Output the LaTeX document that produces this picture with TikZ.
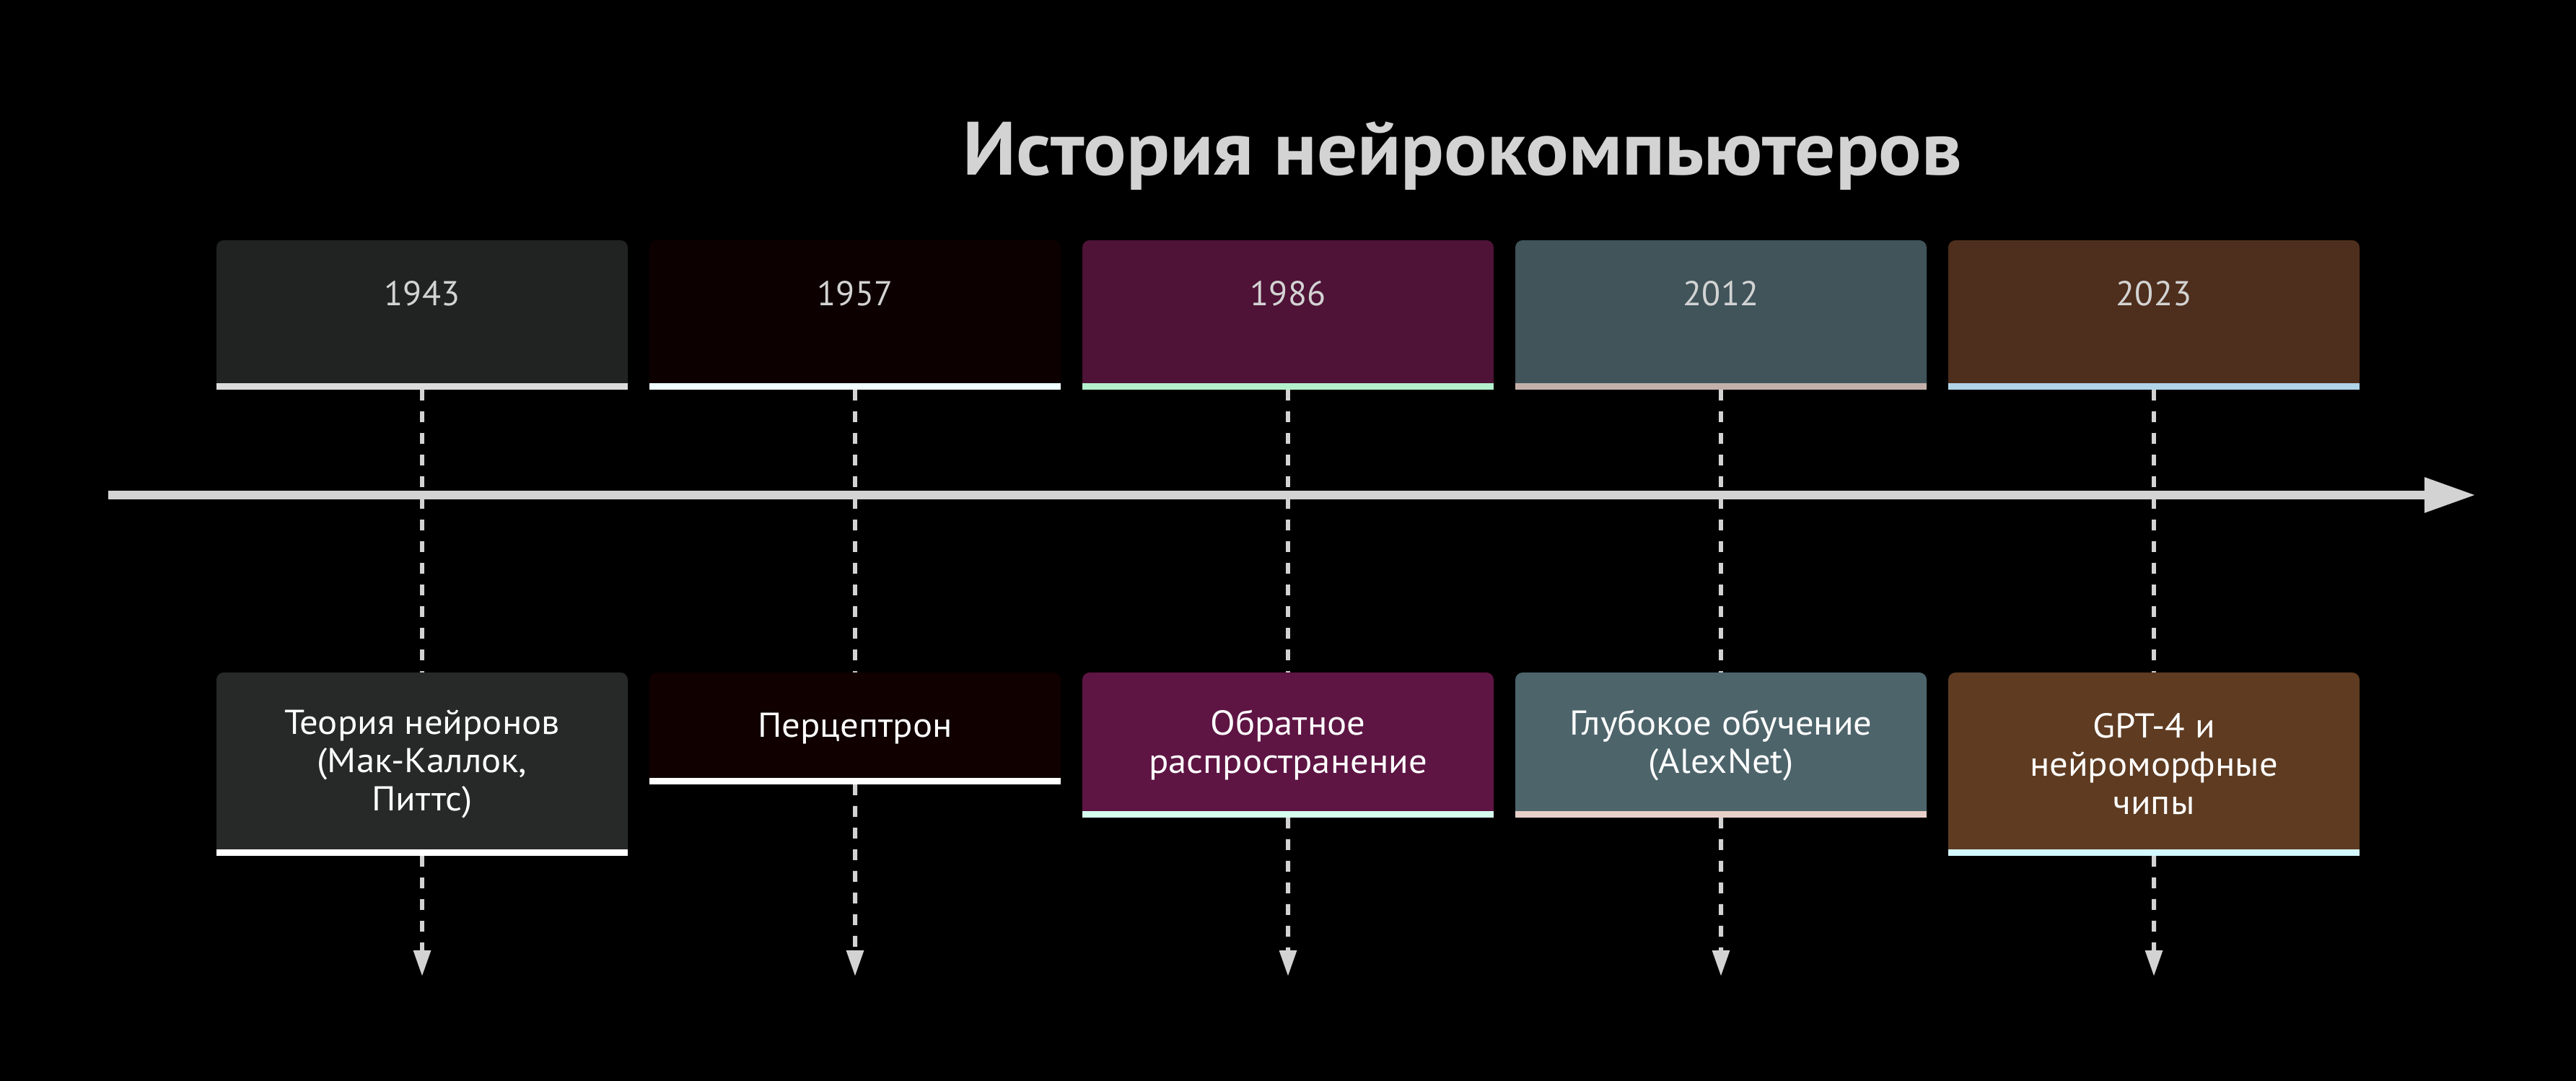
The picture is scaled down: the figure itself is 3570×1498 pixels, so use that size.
\documentclass[tikz,border=0pt]{standalone}
\usepackage{fontspec}
\setmainfont{PT Sans}
\newfontfamily\widefont[FakeStretch=1.06]{PT Sans}
\usetikzlibrary{arrows.meta,positioning}
\definecolor{lineGray}{HTML}{D3D3D3}
\definecolor{topA}{HTML}{212322}
\definecolor{topB}{HTML}{0D0000}
\definecolor{topC}{HTML}{4E1337}
\definecolor{topD}{HTML}{40545A}
\definecolor{topE}{HTML}{4E2E1C}
\definecolor{botA}{HTML}{272928}
\definecolor{botB}{HTML}{100000}
\definecolor{botC}{HTML}{5E1544}
\definecolor{botD}{HTML}{4D646B}
\definecolor{botE}{HTML}{5E3B21}
\definecolor{bandA}{HTML}{DCDCDC}
\definecolor{bandB}{HTML}{F0FFFF}
\definecolor{bandC}{HTML}{B3F0CC}
\definecolor{bandD}{HTML}{C4B0AA}
\definecolor{bandE}{HTML}{B0D4E8}
\definecolor{bandCl}{HTML}{D6FFF0}
\definecolor{bandDl}{HTML}{E8D0C8}
\definecolor{bandEl}{HTML}{D4F8FF}
\pgfdeclarelayer{bg}
\pgfsetlayers{bg,main}

\begin{document}
\begin{tikzpicture}[
    x=0.1mm, y=-0.1mm,
    node distance=3mm,
    every node/.style={outer sep=0pt},
    yearbox/.style={rounded corners=1mm, minimum width=57mm, inner xsep=0pt, inner ysep=0pt,
        text height=9.1mm, text depth=11.6mm, text=lineGray, font=\fontsize{13.6pt}{15pt}\selectfont},
    eventbox/.style={rounded corners=1mm, minimum width=57mm, inner sep=0pt, text=white,
        align=center, font=\widefont\fontsize{13.6pt}{15.1pt}\selectfont},
    guide/.style={lineGray, line width=0.6mm, dash pattern=on 1.5mm off 1.5mm},
    tip/.style={-{Triangle[length=3.6mm,width=2.3mm]}}
]
    \useasboundingbox (0,0) rectangle (3570,1498);

    \node[anchor=base, text=lineGray, font=\widefont\bfseries\fontsize{29.8pt}{32pt}\selectfont] (title) at (2027,243) {История нейрокомпьютеров};

    % years
    \node[yearbox, fill=topA, anchor=north] (y1943) at (585,333) {1943};
    \node[yearbox, fill=topB, right=of y1943] (y1957) {1957};
    \node[yearbox, fill=topC, right=of y1957] (y1986) {1986};
    \node[yearbox, fill=topD, right=of y1986] (y2012) {2012};
    \node[yearbox, fill=topE, right=of y2012] (y2023) {2023};
    \fill[bandA] (y1943.south west) rectangle ([yshift=0.9mm]y1943.south east);
    \fill[bandB] (y1957.south west) rectangle ([yshift=0.9mm]y1957.south east);
    \fill[bandC] (y1986.south west) rectangle ([yshift=0.9mm]y1986.south east);
    \fill[bandD] (y2012.south west) rectangle ([yshift=0.9mm]y2012.south east);
    \fill[bandE] (y2023.south west) rectangle ([yshift=0.9mm]y2023.south east);

    % events
    \node[eventbox, fill=botA, minimum height=25.4mm, below=39.2mm of y1943] (ev1943) {Теория нейронов\\(Мак-Каллок,\\Питтс)};
    \node[eventbox, fill=botB, minimum height=15.5mm, below=39.2mm of y1957] (ev1957) {Перцептрон};
    \node[eventbox, fill=botC, minimum height=20.1mm, below=39.2mm of y1986] (ev1986) {Обратное\\распространение};
    \node[eventbox, fill=botD, minimum height=20.1mm, below=39.2mm of y2012] (ev2012) {Глубокое обучение\\(AlexNet)};
    \node[eventbox, fill=botE, minimum height=25.4mm, below=39.2mm of y2023] (ev2023) {GPT-4 и\\нейроморфные\\чипы};
    \fill[white] (ev1943.south west) rectangle ([yshift=0.9mm]ev1943.south east);
    \fill[white] (ev1957.south west) rectangle ([yshift=0.9mm]ev1957.south east);
    \fill[bandCl] (ev1986.south west) rectangle ([yshift=0.9mm]ev1986.south east);
    \fill[bandDl] (ev2012.south west) rectangle ([yshift=0.9mm]ev2012.south east);
    \fill[bandEl] (ev2023.south west) rectangle ([yshift=0.9mm]ev2023.south east);

    \coordinate (axisL) at (150,686);
    \coordinate (axisR) at (3431,686);
    \coordinate (end1943) at (585,1353);
    \coordinate (end1957) at (1185,1353);
    \coordinate (end1986) at (1785,1353);
    \coordinate (end2012) at (2385,1353);
    \coordinate (end2023) at (2985,1353);

    \begin{pgfonlayer}{bg}
        \fill[black] (0,0) rectangle (3570,1498);
        \draw[guide] (y1943.south) -- (ev1943.north);
        \draw[guide] (y1957.south) -- (ev1957.north);
        \draw[guide] (y1986.south) -- (ev1986.north);
        \draw[guide] (y2012.south) -- (ev2012.north);
        \draw[guide] (y2023.south) -- (ev2023.north);
        \draw[guide,tip] (ev1943.south) -- (end1943);
        \draw[guide,tip] (ev1957.south) -- (end1957);
        \draw[guide,tip] (ev1986.south) -- (end1986);
        \draw[guide,tip] (ev2012.south) -- (end2012);
        \draw[guide,tip] (ev2023.south) -- (end2023);
        \draw[lineGray, line width=1.2mm, -{Triangle[length=7.1mm,width=4.6mm]}] (axisL) -- (axisR);
    \end{pgfonlayer}
\end{tikzpicture}
\end{document}
